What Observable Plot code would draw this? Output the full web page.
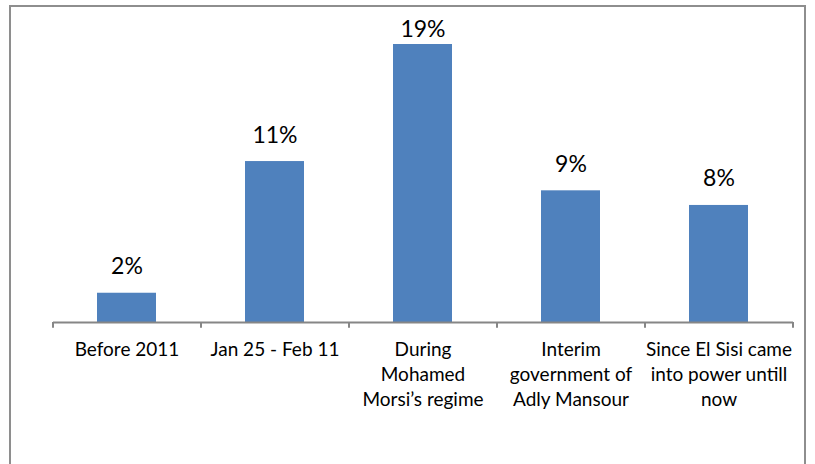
<!DOCTYPE html>
<html>
<head>
<meta charset="utf-8">
<script src="https://cdn.jsdelivr.net/npm/d3@7"></script>
<script src="https://cdn.jsdelivr.net/npm/@observablehq/plot@0.6"></script>
<style>
  html, body { margin: 0; padding: 0; background: #fff; }
  #chart svg { display: block; }
</style>
</head>
<body>
<div id="chart"></div>
<script>
const categories = [
  "Before 2011",
  "Jan 25 - Feb 11",
  "During\nMohamed\nMorsi’s regime",
  "Interim\ngovernment of\nAdly Mansour",
  "Since El Sisi came\ninto power untill\nnow"
];
const values = [2, 11, 19, 9, 8];
const valueLabels = ["2%", "11%", "19%", "9%", "8%"];

const data = categories.map((c, i) => ({category: c, value: values[i], label: valueLabels[i]}));
const lastCategory = categories[categories.length - 1];

const font = "Lato, 'Open Sans', sans-serif";
const W = 815, H = 464;

const chart = Plot.plot({
  width: W,
  height: H,
  marginLeft: 53,
  marginRight: 22,
  marginTop: 44,
  marginBottom: 142,
  style: {fontFamily: font, background: "#fff", color: "#000", overflow: "visible"},
  x: {domain: categories, paddingInner: 0.6, paddingOuter: 0.3, axis: null},
  y: {domain: [0, 19], axis: null},
  marks: [
    Plot.barY(data, {x: "category", y: "value", fill: "#4F81BD"}),
    Plot.ruleY([0], {stroke: "#868686", strokeWidth: 2}),
    Plot.ruleX(categories, {x: d => d, y1: 0, y2: -0.4, dx: -74, stroke: "#868686", strokeWidth: 2}),
    Plot.ruleX([lastCategory], {x: d => d, y1: 0, y2: -0.4, dx: 74, stroke: "#868686", strokeWidth: 2}),
    Plot.text(data, {
      x: "category", y: () => 0, text: "category",
      lineAnchor: "top", dy: 15.5, fontSize: 19, lineHeight: 1.33, fill: "#000"
    }),
    Plot.text(data, {
      x: "category", y: d => Math.min(d.value, 18.2), text: "label",
      lineAnchor: "bottom", dy: -19, fontSize: 23, fill: "#000"
    })
  ]
});

document.getElementById("chart").appendChild(chart);

d3.select(chart).append("rect")
  .attr("x", 10).attr("y", 6)
  .attr("width", 795).attr("height", 520)
  .attr("fill", "none")
  .attr("stroke", "#8e8e8e")
  .attr("stroke-width", 2);
</script>
</body>
</html>
